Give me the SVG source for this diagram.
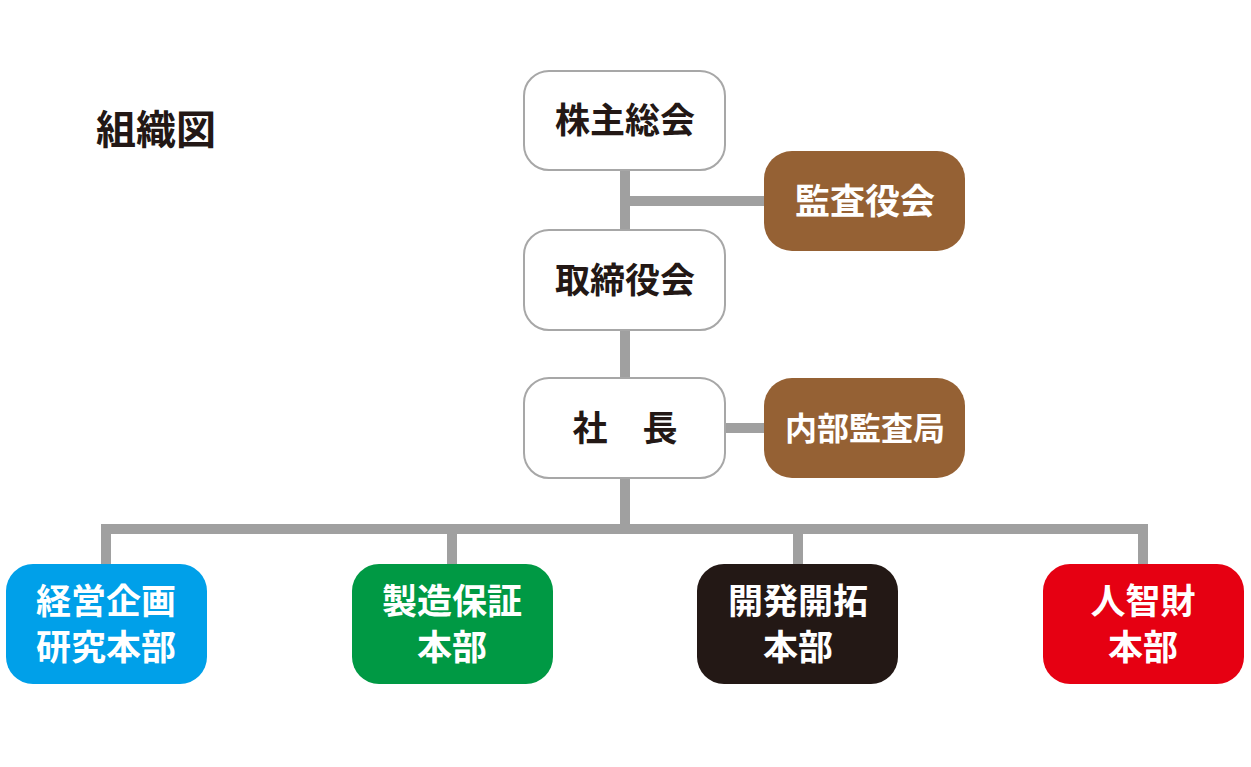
<svg xmlns="http://www.w3.org/2000/svg" width="1251" height="767" viewBox="0 0 1251 767">
<style>
text{font-family:"Noto Sans CJK JP","Noto Sans CJK SC",sans-serif;font-weight:700;text-anchor:middle;}
.lbl{font-size:35px;}
.dark{fill:#231815;}
.light{fill:#ffffff;}
.wbox{fill:#ffffff;stroke:#a7a7a7;stroke-width:2;}
.conn{fill:none;stroke:#a0a0a0;stroke-width:10;stroke-linejoin:miter;stroke-linecap:butt;}
</style>
<rect width="1251" height="767" fill="#ffffff"/>
<text x="156" y="144" class="dark" style="font-size:40px">組織図</text>
<g id="connectors">
<path class="conn" d="M625,170 V378"/>
<path class="conn" d="M625,478 V529"/>
<path class="conn" d="M625,201 H764"/>
<path class="conn" d="M725,428 H764"/>
<path class="conn" d="M106,564 V529 H1143 V564"/>
<path class="conn" d="M452,529 V564"/>
<path class="conn" d="M798,529 V564"/>
</g>
<g id="kabunushi">
<rect class="wbox" x="524" y="71" width="201" height="99" rx="25"/>
<text x="625" y="133" class="lbl dark">株主総会</text>
</g>
<g id="kansayaku">
<rect x="764" y="151" width="201" height="100" rx="28" fill="#956134"/>
<text x="865" y="214" class="lbl light">監査役会</text>
</g>
<g id="torishimari">
<rect class="wbox" x="524" y="230" width="201" height="100" rx="25"/>
<text x="625" y="293" class="lbl dark">取締役会</text>
</g>
<g id="shacho">
<rect class="wbox" x="524" y="378" width="201" height="100" rx="25"/>
<text x="625" y="441" class="lbl dark">社　長</text>
</g>
<g id="naibu">
<rect x="764" y="378" width="201" height="100" rx="28" fill="#956134"/>
<text x="865" y="440" class="light" style="font-size:32px">内部監査局</text>
</g>
<g id="keiei">
<rect x="6" y="564" width="201" height="120" rx="27" fill="#00a0e9"/>
<text x="106" y="614" class="lbl light">経営企画</text>
<text x="106" y="660" class="lbl light">研究本部</text>
</g>
<g id="seizo">
<rect x="352" y="564" width="201" height="120" rx="27" fill="#009944"/>
<text x="452" y="614" class="lbl light">製造保証</text>
<text x="452" y="660" class="lbl light">本部</text>
</g>
<g id="kaihatsu">
<rect x="697" y="564" width="201" height="120" rx="27" fill="#231815"/>
<text x="798" y="614" class="lbl light">開発開拓</text>
<text x="798" y="660" class="lbl light">本部</text>
</g>
<g id="jinchizai">
<rect x="1043" y="564" width="201" height="120" rx="27" fill="#e60012"/>
<text x="1143" y="614" class="lbl light">人智財</text>
<text x="1143" y="660" class="lbl light">本部</text>
</g>
</svg>
